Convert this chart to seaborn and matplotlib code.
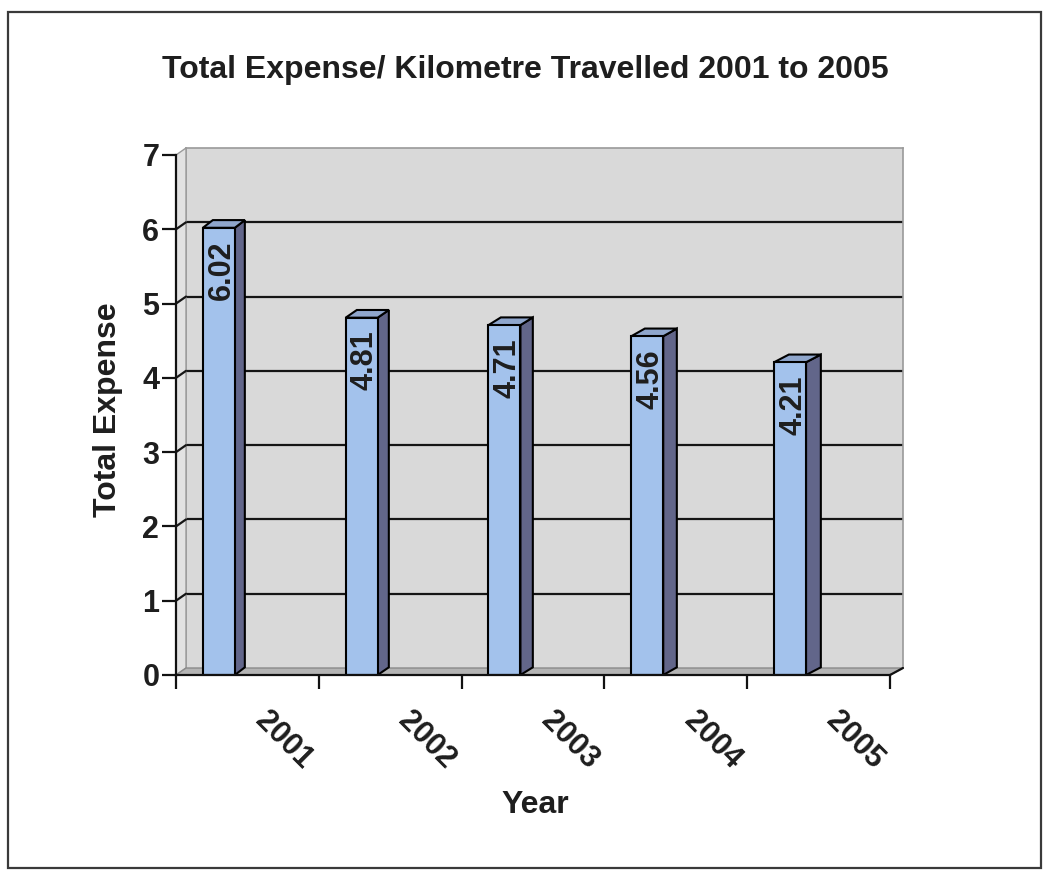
import matplotlib
matplotlib.use("Agg")
import matplotlib.pyplot as plt
import seaborn as sns
import numpy as np
import pandas as pd
from matplotlib.patches import Polygon, Rectangle
from matplotlib.lines import Line2D
from matplotlib.transforms import ScaledTranslation

# Data
years = ["2001", "2002", "2003", "2004", "2005"]
expense = [6.02, 4.81, 4.71, 4.56, 4.21]
y_ticks = [0, 1, 2, 3, 4, 5, 6, 7]

title_text = "Total Expense/ Kilometre Travelled 2001 to 2005"
x_label = "Year"
y_label = "Total Expense"

sns.set_style("white")
plt.rcParams["font.family"] = ["Liberation Sans", "DejaVu Sans"]
plt.rcParams["font.weight"] = "bold"

W, H = 1044, 875
fig = plt.figure(figsize=(W / 100, H / 100), dpi=100)
fig.patch.set_facecolor("white")

TXT = "#1e1e1e"
FRONT = "#a3c2ec"
SIDE = "#62668a"
TOP = "#8fa6cc"
WALL = "#d9d9d9"
SIDEWALL = "#e2e2e2"
FLOOR = "#b4b4b4"


def px_rect(left, right, top, bottom):
    return [left / W, 1 - bottom / H, (right - left) / W, (bottom - top) / H]


# Depth offset of the back wall (pixels)
DX, DY = 10, 7
f_left, f_right, f_top, f_bottom = 176, 890, 155, 675

# Back wall with grid
axb = fig.add_axes(px_rect(f_left + DX, f_right + DX + 3, f_top - DY, f_bottom - DY))
axb.set_facecolor(WALL)
axb.set_xlim(0, 1)
axb.set_ylim(0, 7)
axb.set_xticks([])
axb.set_yticks([])
for s in axb.spines.values():
    s.set_color("#9a9a9a")
    s.set_linewidth(1.2)
axb.spines["bottom"].set_visible(False)
for v in y_ticks[1:-1]:
    axb.axhline(v, color="#151515", lw=1.6, zorder=2)

# Front axes with the bars
ax = fig.add_axes(px_rect(f_left, f_right, f_top, f_bottom))
ax.patch.set_alpha(0)
df = pd.DataFrame({"Year": years, "Expense": expense})
bar_w = 0.224
shift = -0.2
sns.barplot(data=df, x="Year", y="Expense", ax=ax, width=bar_w, color=FRONT,
            saturation=1, edgecolor="black", linewidth=1.5, zorder=4)
ax.set_xlim(-0.5, len(years) - 0.5)
ax.set_ylim(0, 7)

# Depth in data units (side faces widen slightly towards the right)
cat_px = (f_right - f_left) / len(years)
ddy = DY * 1.1 / ((f_bottom - f_top) / 7)

for i, (p, v) in enumerate(zip(ax.patches, expense)):
    p.set_x(p.get_x() + shift)
    x0 = p.get_x()
    x1 = x0 + p.get_width()
    ddx = (10 + 1.2 * i) / cat_px
    side = Polygon([(x1, 0), (x1 + ddx, ddy), (x1 + ddx, v + ddy), (x1, v)],
                   closed=True, facecolor=SIDE, edgecolor="black", lw=1.5, zorder=3)
    top = Polygon([(x0, v), (x0 + ddx, v + ddy), (x1 + ddx, v + ddy), (x1, v)],
                  closed=True, facecolor=TOP, edgecolor="black", lw=1.5, zorder=3)
    ax.add_patch(side)
    ax.add_patch(top)
    ax.annotate(f"{v:.2f}", xy=(x0 + p.get_width() / 2, v), xytext=(3, -13),
                textcoords="offset pixels", rotation=90, rotation_mode="anchor",
                ha="right", va="center", fontsize=22, fontweight="bold",
                color=TXT, zorder=6)

# Axes styling
for s in ["top", "right"]:
    ax.spines[s].set_visible(False)
for s in ["left", "bottom"]:
    ax.spines[s].set_color("#111111")
    ax.spines[s].set_linewidth(1.6)
    ax.spines[s].set_zorder(5)

ax.set_yticks(y_ticks)
ax.set_yticklabels([str(t) for t in y_ticks], fontsize=22, fontweight="bold", color=TXT)
ax.tick_params(axis="y", direction="out", length=10, width=1.6, color="#111111",
               pad=2, left=True)

centers = np.arange(len(years))
ax.set_xticks(centers)
ax.set_xticklabels(years, rotation=-45, ha="left", va="top", rotation_mode="anchor",
                   fontsize=22, fontweight="bold", color=TXT)
ax.tick_params(axis="x", which="major", length=0, pad=22)
ax.set_xticks(np.arange(len(years) + 1) - 0.5, minor=True)
ax.tick_params(axis="x", which="minor", direction="out", length=10, width=1.6,
               color="#111111", bottom=True)
for lab in ax.get_xticklabels():
    lab.set_transform(lab.get_transform() + ScaledTranslation(0.23, 0, fig.dpi_scale_trans))

ax.set_xlabel(x_label, fontsize=23, fontweight="bold", color=TXT, va="center")
ax.xaxis.set_label_coords((535 - f_left) / (f_right - f_left),
                          (f_bottom - 805) / (f_bottom - f_top))
ax.set_ylabel(y_label, fontsize=23, fontweight="bold", color=TXT, va="center")
ax.yaxis.set_label_coords((108 - f_left) / (f_right - f_left),
                          (f_bottom - 410) / (f_bottom - f_top))

# Side wall, floor and tick connectors between front axis and back wall
fig.canvas.draw()
inv = fig.transFigure.inverted()


def fpt(axis, x, y):
    return inv.transform(axis.transData.transform((x, y)))


bl = fpt(ax, -0.5, 0)
tl = fpt(ax, -0.5, 7)
bbl = fpt(axb, 0, 0)
btl = fpt(axb, 0, 7)
br = fpt(ax, len(years) - 0.5, 0)
bbr = fpt(axb, 1, 0)

fig.add_artist(Polygon([bl, tl, btl, bbl], closed=True, transform=fig.transFigure,
                       facecolor=SIDEWALL, edgecolor="#9a9a9a", lw=1.0, zorder=0.5))
fig.add_artist(Polygon([bl, br, bbr, bbl], closed=True, transform=fig.transFigure,
                       facecolor=FLOOR, edgecolor="#8a8a8a", lw=1.0, zorder=0.5))
for v in y_ticks[1:-1]:
    a = fpt(ax, -0.5, v)
    b = fpt(axb, 0, v)
    fig.add_artist(Line2D([a[0], b[0]], [a[1], b[1]], transform=fig.transFigure,
                          color="#151515", lw=1.6, zorder=0.6))
fig.add_artist(Line2D([br[0], bbr[0]], [br[1], bbr[1]], transform=fig.transFigure,
                      color="#111111", lw=1.6, zorder=0.6))

axb.set_zorder(0)
ax.set_zorder(1)

# Title
fig.text(525 / W, 1 - 70 / H, title_text, ha="center", va="center",
         fontsize=23, fontweight="bold", color=TXT)

# Outer frame
fig.add_artist(Rectangle((8 / W, 1 - 868 / H), (1041 - 8) / W, (868 - 12) / H,
                         transform=fig.transFigure, fill=False,
                         edgecolor="#3a3a3a", lw=1.6, zorder=10))

fig.savefig("out.png", dpi=100, facecolor="white")
